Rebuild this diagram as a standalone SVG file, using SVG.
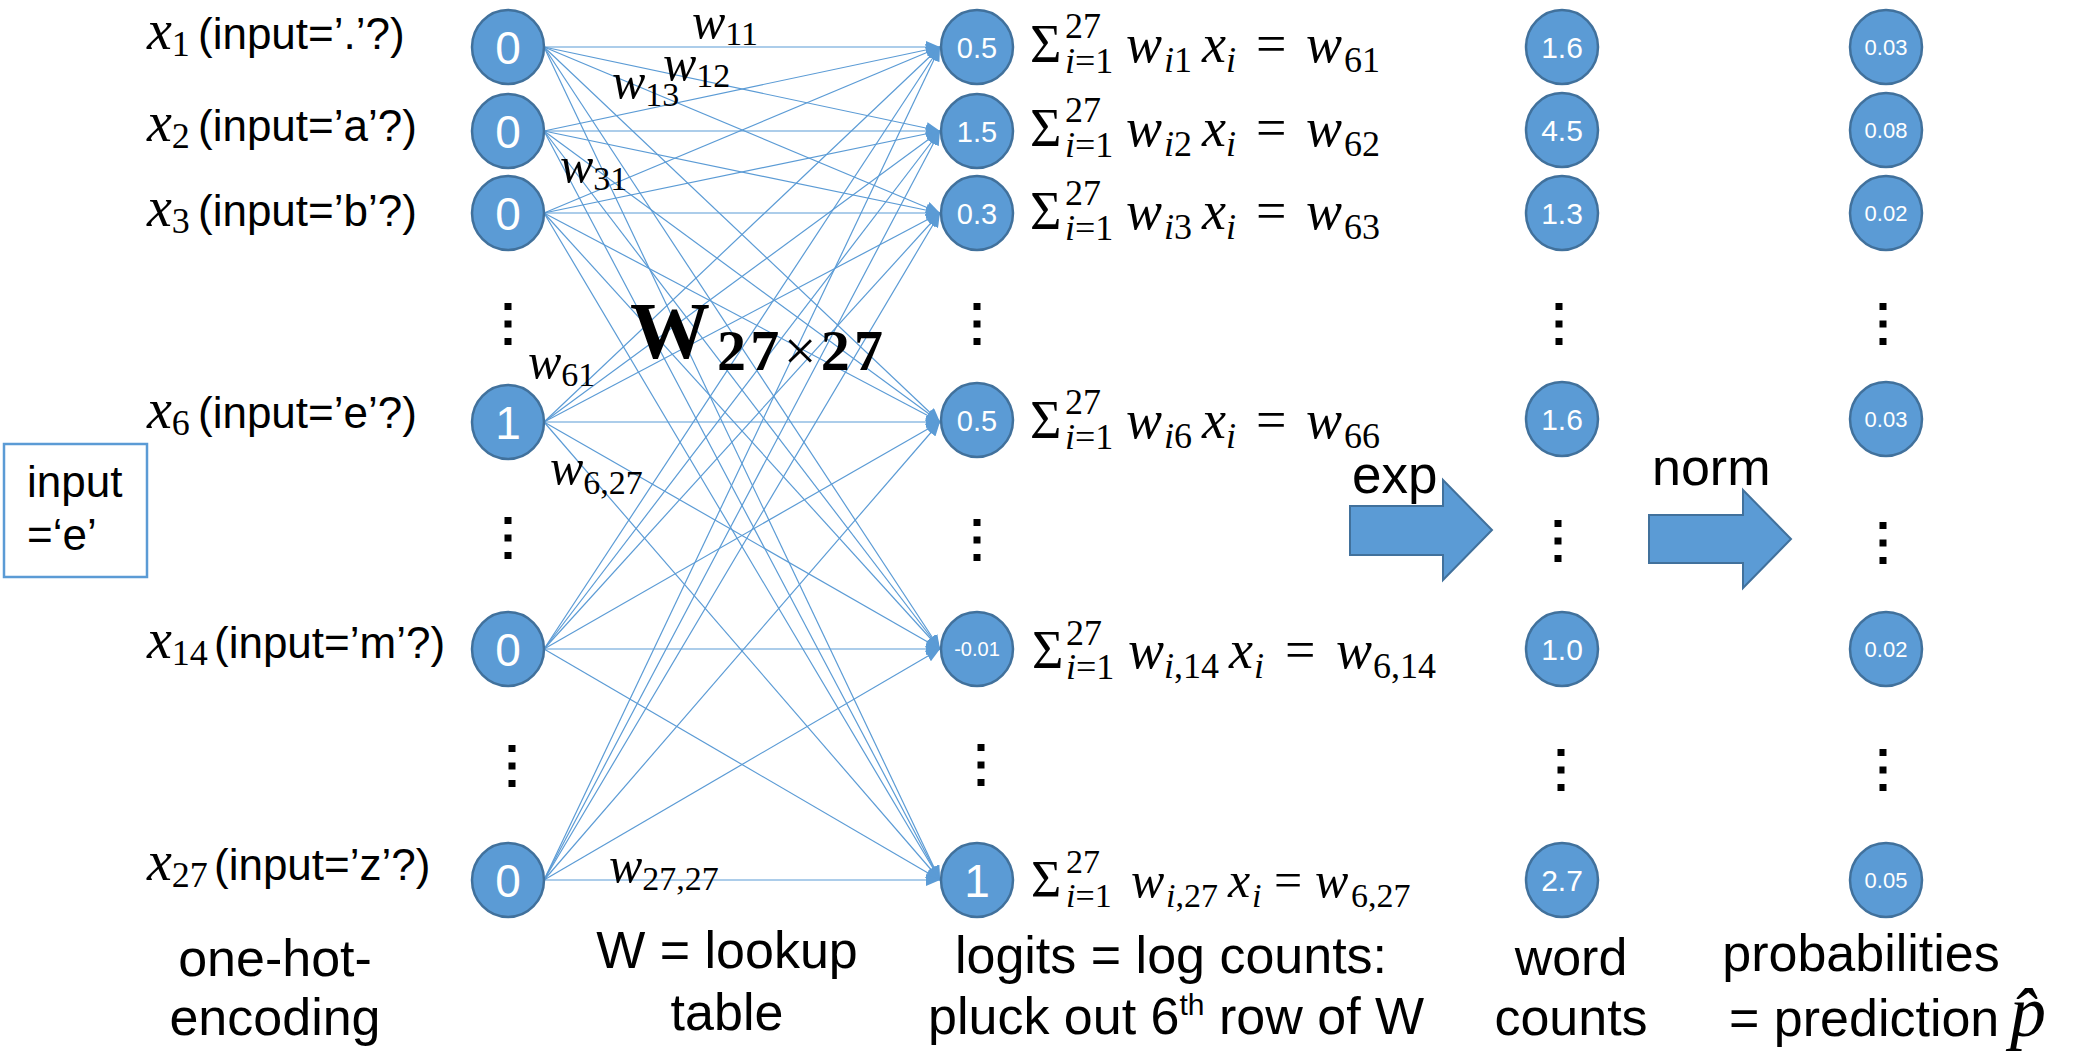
<svg xmlns="http://www.w3.org/2000/svg" xmlns:xlink="http://www.w3.org/1999/xlink" width="2089" height="1063" viewBox="0 0 2089 1063">
<style>
.nd{fill:#5B9BD5;stroke:#41719C;stroke-width:2.5}
.nt{fill:#fff;font-family:"Liberation Sans",Arial,sans-serif;text-anchor:middle}
.lbl{font-family:"Liberation Sans",Arial,sans-serif;font-size:44px;fill:#000}
.big{font-size:52px}
.mid{text-anchor:middle}
.m{font-family:"Liberation Serif","Times New Roman",serif;font-style:italic;font-size:50px;fill:#000}
.f{font-size:54px}
.xi{font-size:56px}
.sg{font-size:54px}
.u{font-style:normal}
.s{font-size:34px}
.s2{font-size:36px}
.cn line{stroke:#5B9BD5;stroke-width:1.2;fill:none;marker-end:url(#ah)}
.dots rect{fill:#000}
.arr{fill:#5B9BD5;stroke:#41719C;stroke-width:2}
</style>
<defs>
<marker id="ah" markerUnits="userSpaceOnUse" markerWidth="14" markerHeight="12" refX="14" refY="6" orient="auto"><path d="M0,0 L14,6 L0,12 z" fill="#5B9BD5"/></marker>
<g id="vd" class="dots"><rect x="-3.5" y="-21" width="7" height="7"/><rect x="-3.5" y="-3.5" width="7" height="7"/><rect x="-3.5" y="14" width="7" height="7"/></g>
</defs>
<rect width="2089" height="1063" fill="#fff"/>

<g id="connectors" class="cn">
<line x1="544" y1="47" x2="940" y2="47"/><line x1="544" y1="47" x2="940" y2="131"/><line x1="544" y1="47" x2="940" y2="213"/><line x1="544" y1="47" x2="940" y2="422"/><line x1="544" y1="47" x2="940" y2="649"/><line x1="544" y1="47" x2="940" y2="880"/>
<line x1="544" y1="131" x2="940" y2="47"/><line x1="544" y1="131" x2="940" y2="131"/><line x1="544" y1="131" x2="940" y2="213"/><line x1="544" y1="131" x2="940" y2="422"/><line x1="544" y1="131" x2="940" y2="649"/><line x1="544" y1="131" x2="940" y2="880"/>
<line x1="544" y1="213" x2="940" y2="47"/><line x1="544" y1="213" x2="940" y2="131"/><line x1="544" y1="213" x2="940" y2="213"/><line x1="544" y1="213" x2="940" y2="422"/><line x1="544" y1="213" x2="940" y2="649"/><line x1="544" y1="213" x2="940" y2="880"/>
<line x1="544" y1="422" x2="940" y2="47"/><line x1="544" y1="422" x2="940" y2="131"/><line x1="544" y1="422" x2="940" y2="213"/><line x1="544" y1="422" x2="940" y2="422"/><line x1="544" y1="422" x2="940" y2="649"/><line x1="544" y1="422" x2="940" y2="880"/>
<line x1="544" y1="649" x2="940" y2="47"/><line x1="544" y1="649" x2="940" y2="131"/><line x1="544" y1="649" x2="940" y2="213"/><line x1="544" y1="649" x2="940" y2="422"/><line x1="544" y1="649" x2="940" y2="649"/><line x1="544" y1="649" x2="940" y2="880"/>
<line x1="544" y1="880" x2="940" y2="47"/><line x1="544" y1="880" x2="940" y2="131"/><line x1="544" y1="880" x2="940" y2="213"/><line x1="544" y1="880" x2="940" y2="422"/><line x1="544" y1="880" x2="940" y2="649"/><line x1="544" y1="880" x2="940" y2="880"/>
</g>

<!-- input labels -->
<g id="input-labels" class="lbl">
<text y="49"><tspan x="147" class="m xi">x</tspan><tspan class="m s2 u" dy="7">1</tspan><tspan x="198" dy="-7">(input=’.’?)</tspan></text>
<text y="141"><tspan x="147" class="m xi">x</tspan><tspan class="m s2 u" dy="7">2</tspan><tspan x="198" dy="-7">(input=’a’?)</tspan></text>
<text y="226"><tspan x="147" class="m xi">x</tspan><tspan class="m s2 u" dy="7">3</tspan><tspan x="198" dy="-7">(input=’b’?)</tspan></text>
<text y="428"><tspan x="147" class="m xi">x</tspan><tspan class="m s2 u" dy="7">6</tspan><tspan x="198" dy="-7">(input=’e’?)</tspan></text>
<text y="658"><tspan x="147" class="m xi">x</tspan><tspan class="m s2 u" dy="7">14</tspan><tspan x="214" dy="-7">(input=’m’?)</tspan></text>
<text y="880"><tspan x="147" class="m xi">x</tspan><tspan class="m s2 u" dy="7">27</tspan><tspan x="214" dy="-7">(input=’z’?)</tspan></text>
</g>

<g id="input-box">
<rect x="4" y="444" width="143" height="133" fill="#fff" stroke="#5B9BD5" stroke-width="2.5"/>
<text class="lbl" x="27" y="497">input</text>
<text class="lbl" x="27" y="550">=‘e’</text>
</g>

<!-- input nodes -->
<g id="in1"><ellipse class="nd" cx="508" cy="47" rx="36" ry="37"/><text class="nt" x="508" y="63.5" font-size="46">0</text></g>
<g id="in2"><ellipse class="nd" cx="508" cy="131" rx="36" ry="37"/><text class="nt" x="508" y="147.5" font-size="46">0</text></g>
<g id="in3"><ellipse class="nd" cx="508" cy="213" rx="36" ry="37"/><text class="nt" x="508" y="229.5" font-size="46">0</text></g>
<g id="in6"><ellipse class="nd" cx="508" cy="422" rx="36" ry="37"/><text class="nt" x="508" y="438.5" font-size="46">1</text></g>
<g id="in14"><ellipse class="nd" cx="508" cy="649" rx="36" ry="37"/><text class="nt" x="508" y="665.5" font-size="46">0</text></g>
<g id="in27"><ellipse class="nd" cx="508" cy="880" rx="36" ry="37"/><text class="nt" x="508" y="896.5" font-size="46">0</text></g>

<!-- logit nodes -->
<g id="lg1"><ellipse class="nd" cx="977" cy="47" rx="36" ry="37"/><text class="nt" x="977" y="57.5" font-size="29">0.5</text></g>
<g id="lg2"><ellipse class="nd" cx="977" cy="131" rx="36" ry="37"/><text class="nt" x="977" y="141.5" font-size="29">1.5</text></g>
<g id="lg3"><ellipse class="nd" cx="977" cy="213" rx="36" ry="37"/><text class="nt" x="977" y="223.5" font-size="29">0.3</text></g>
<g id="lg6"><ellipse class="nd" cx="977" cy="420" rx="36" ry="37"/><text class="nt" x="977" y="430.5" font-size="29">0.5</text></g>
<g id="lg14"><ellipse class="nd" cx="977" cy="649" rx="36" ry="37"/><text class="nt" x="977" y="656" font-size="20">-0.01</text></g>
<g id="lg27"><ellipse class="nd" cx="977" cy="880" rx="36" ry="37"/><text class="nt" x="977" y="896.5" font-size="46">1</text></g>

<!-- count nodes -->
<g id="ct1"><ellipse class="nd" cx="1562" cy="47" rx="36" ry="37"/><text class="nt" x="1562" y="58" font-size="30">1.6</text></g>
<g id="ct2"><ellipse class="nd" cx="1562" cy="130" rx="36" ry="37"/><text class="nt" x="1562" y="141" font-size="30">4.5</text></g>
<g id="ct3"><ellipse class="nd" cx="1562" cy="213" rx="36" ry="37"/><text class="nt" x="1562" y="224" font-size="30">1.3</text></g>
<g id="ct6"><ellipse class="nd" cx="1562" cy="419" rx="36" ry="37"/><text class="nt" x="1562" y="430" font-size="30">1.6</text></g>
<g id="ct14"><ellipse class="nd" cx="1562" cy="649" rx="36" ry="37"/><text class="nt" x="1562" y="660" font-size="30">1.0</text></g>
<g id="ct27"><ellipse class="nd" cx="1562" cy="880" rx="36" ry="37"/><text class="nt" x="1562" y="891" font-size="30">2.7</text></g>

<!-- probability nodes -->
<g id="pr1"><ellipse class="nd" cx="1886" cy="47" rx="36" ry="37"/><text class="nt" x="1886" y="55" font-size="22">0.03</text></g>
<g id="pr2"><ellipse class="nd" cx="1886" cy="130" rx="36" ry="37"/><text class="nt" x="1886" y="138" font-size="22">0.08</text></g>
<g id="pr3"><ellipse class="nd" cx="1886" cy="213" rx="36" ry="37"/><text class="nt" x="1886" y="221" font-size="22">0.02</text></g>
<g id="pr6"><ellipse class="nd" cx="1886" cy="419" rx="36" ry="37"/><text class="nt" x="1886" y="427" font-size="22">0.03</text></g>
<g id="pr14"><ellipse class="nd" cx="1886" cy="649" rx="36" ry="37"/><text class="nt" x="1886" y="657" font-size="22">0.02</text></g>
<g id="pr27"><ellipse class="nd" cx="1886" cy="880" rx="36" ry="37"/><text class="nt" x="1886" y="888" font-size="22">0.05</text></g>

<!-- vertical ellipses -->
<g id="vdots">
<use href="#vd" xlink:href="#vd" x="508" y="324"/><use href="#vd" xlink:href="#vd" x="508" y="538"/><use href="#vd" xlink:href="#vd" x="512" y="766"/>
<use href="#vd" xlink:href="#vd" x="977" y="324"/><use href="#vd" xlink:href="#vd" x="977" y="540"/><use href="#vd" xlink:href="#vd" x="981" y="765"/>
<use href="#vd" xlink:href="#vd" x="1559" y="324"/><use href="#vd" xlink:href="#vd" x="1558" y="541"/><use href="#vd" xlink:href="#vd" x="1561" y="770"/>
<use href="#vd" xlink:href="#vd" x="1883" y="324"/><use href="#vd" xlink:href="#vd" x="1883" y="543"/><use href="#vd" xlink:href="#vd" x="1883" y="770"/>
</g>

<!-- weight labels -->
<g id="weight-labels">
<text class="m" x="692" y="38">w<tspan class="s u" dy="7">11</tspan></text>
<text class="m" x="663" y="80">w<tspan class="s u" dy="7">12</tspan></text>
<text class="m" x="612" y="98">w<tspan class="s u" dy="8">13</tspan></text>
<text class="m" x="560" y="182">w<tspan class="s u" dy="8">31</tspan></text>
<text class="m" x="528" y="378">w<tspan class="s u" dy="8">61</tspan></text>
<text class="m" x="550" y="484">w<tspan class="s u" dy="10">6,27</tspan></text>
<text class="m" x="609" y="882">w<tspan class="s u" dy="8">27,27</tspan></text>
<text x="630" y="358" font-family="'Liberation Serif','Times New Roman',serif" font-weight="bold" font-size="80">W</text>
<text x="717" y="370" font-family="'Liberation Serif','Times New Roman',serif" font-weight="bold" font-size="58" textLength="166" lengthAdjust="spacing">27<tspan font-weight="normal">×</tspan>27</text>
</g>

<!-- formulas -->
<g id="formula1">
<text class="m u sg" x="1030" y="62">Σ</text>
<text class="m s2 u" x="1065" y="38">27</text>
<text class="m s2" x="1065" y="73">i<tspan class="u">=1</tspan></text>
<text class="m f" x="1126" y="62">w</text><text class="m s2" x="1164" y="72">i<tspan class="u">1</tspan></text>
<text class="m f" x="1202" y="62">x</text><text class="m s2" x="1226" y="72">i</text>
<text class="m u f" x="1256" y="62">=</text>
<text class="m f" x="1306" y="62">w</text><text class="m s2 u" x="1344" y="72">61</text>
</g>
<g id="formula2">
<text class="m u sg" x="1030" y="146">Σ</text>
<text class="m s2 u" x="1065" y="122">27</text>
<text class="m s2" x="1065" y="157">i<tspan class="u">=1</tspan></text>
<text class="m f" x="1126" y="146">w</text><text class="m s2" x="1164" y="156">i<tspan class="u">2</tspan></text>
<text class="m f" x="1202" y="146">x</text><text class="m s2" x="1226" y="156">i</text>
<text class="m u f" x="1256" y="146">=</text>
<text class="m f" x="1306" y="146">w</text><text class="m s2 u" x="1344" y="156">62</text>
</g>
<g id="formula3">
<text class="m u sg" x="1030" y="229">Σ</text>
<text class="m s2 u" x="1065" y="205">27</text>
<text class="m s2" x="1065" y="240">i<tspan class="u">=1</tspan></text>
<text class="m f" x="1126" y="229">w</text><text class="m s2" x="1164" y="239">i<tspan class="u">3</tspan></text>
<text class="m f" x="1202" y="229">x</text><text class="m s2" x="1226" y="239">i</text>
<text class="m u f" x="1256" y="229">=</text>
<text class="m f" x="1306" y="229">w</text><text class="m s2 u" x="1344" y="239">63</text>
</g>
<g id="formula6">
<text class="m u sg" x="1030" y="438">Σ</text>
<text class="m s2 u" x="1065" y="414">27</text>
<text class="m s2" x="1065" y="449">i<tspan class="u">=1</tspan></text>
<text class="m f" x="1126" y="438">w</text><text class="m s2" x="1164" y="448">i<tspan class="u">6</tspan></text>
<text class="m f" x="1202" y="438">x</text><text class="m s2" x="1226" y="448">i</text>
<text class="m u f" x="1256" y="438">=</text>
<text class="m f" x="1306" y="438">w</text><text class="m s2 u" x="1344" y="448">66</text>
</g>
<g id="formula14">
<text class="m u sg" x="1032" y="668">Σ</text>
<text class="m s2 u" x="1066" y="645">27</text>
<text class="m s2" x="1066" y="679">i<tspan class="u">=1</tspan></text>
<text class="m f" x="1128" y="668">w</text><text class="m s2" x="1164" y="678">i<tspan class="u">,14</tspan></text>
<text class="m f" x="1229" y="668">x</text><text class="m s2" x="1254" y="678">i</text>
<text class="m u f" x="1285" y="668">=</text>
<text class="m f" x="1336" y="668">w</text><text class="m s2 u" x="1373" y="678">6,14</text>
</g>
<g id="formula27">
<text class="m u" x="1031" y="897" style="font-size:52px">Σ</text>
<text class="m s u" x="1066" y="873">27</text>
<text class="m s" x="1066" y="907">i<tspan class="u">=1</tspan></text>
<text class="m" x="1131" y="897">w</text><text class="m s" x="1166" y="907">i<tspan class="u">,27</tspan></text>
<text class="m" x="1228" y="897">x</text><text class="m s" x="1252" y="907">i</text>
<text class="m u" x="1274" y="897">=</text>
<text class="m" x="1315" y="897">w</text><text class="m s u" x="1351" y="907">6,27</text>
</g>

<!-- block arrows -->
<g id="exp-arrow">
<polygon class="arr" points="1350,506 1443,506 1443,480 1492,530 1443,580 1443,555 1350,555"/>
<text class="lbl" x="1352" y="493" style="font-size:53px">exp</text>
</g>
<g id="norm-arrow">
<polygon class="arr" points="1649,515 1743,515 1743,490 1791,539 1743,588 1743,563 1649,563"/>
<text class="lbl" x="1652" y="485" style="font-size:52px">norm</text>
</g>

<!-- bottom captions -->
<g id="captions" class="lbl big">
<text class="mid" x="275" y="976">one-hot-</text>
<text class="mid" x="275" y="1035">encoding</text>
<text class="mid" x="727" y="968">W = lookup</text>
<text class="mid" x="727" y="1030">table</text>
<text class="mid" x="1171" y="973">logits = log counts:</text>
<text x="928" y="1034">pluck out 6<tspan style="font-size:30px" dy="-19">th</tspan><tspan dy="19"> row of W</tspan></text>
<text class="mid" x="1571" y="975">word</text>
<text class="mid" x="1571" y="1035">counts</text>
<text class="mid" x="1861" y="971">probabilities</text>
<text x="1729" y="1036">= prediction</text>
<text class="m" x="2010" y="1036" style="font-size:72px">p̂</text>
</g>
</svg>
